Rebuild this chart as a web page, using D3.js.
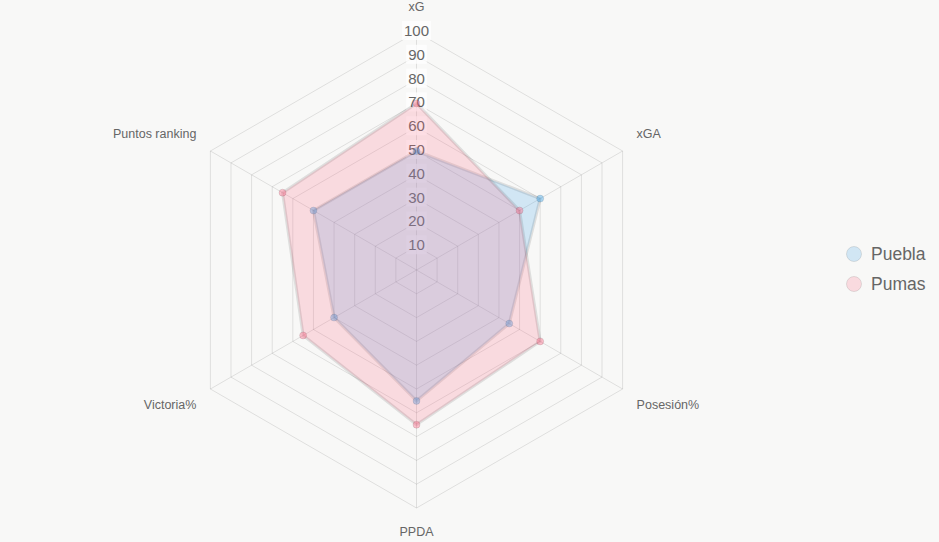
<!DOCTYPE html>
<html>
<head>
<meta charset="utf-8">
<script src="https://cdn.jsdelivr.net/npm/d3@7"></script>
<style>
  html, body { margin: 0; padding: 0; background: #f8f8f7; }
  svg { display: block; font-family: Arial, "Liberation Sans", Helvetica, sans-serif; }
</style>
</head>
<body>
<script>
// radar data
const axesLabels = ["xG", "xGA", "Posesión%", "PPDA", "Victoria%", "Puntos ranking"];
const ticks = [10, 20, 30, 40, 50, 60, 70, 80, 90, 100];
const seriesNames = ["Puebla", "Pumas"];
const pueblaValues = [50, 60, 45, 55, 40, 50];
const pumasValues = [70, 50, 60, 65, 55, 65];

const fills = ["rgba(54,162,235,0.2)", "rgba(255,99,132,0.2)"];
const pointFills = ["rgba(54,162,235,0.4)", "rgba(255,99,132,0.4)"];

const width = 939, height = 542;
const cx = 416.5, cy = 270, R = 238;

const svg = d3.select("body").append("svg")
    .attr("width", width)
    .attr("height", height);

const r = d3.scaleLinear().domain([0, 100]).range([0, R]);
const n = axesLabels.length;
const angle = i => (i / n) * 2 * Math.PI;
const px = (i, v) => cx + r(v) * Math.sin(angle(i));
const py = (i, v) => cy - r(v) * Math.cos(angle(i));

const g = svg.append("g");

// grid rings
ticks.forEach(t => {
    const pts = d3.range(n).map(i => [px(i, t), py(i, t)]);
    g.append("polygon")
        .attr("points", pts.map(p => p.join(",")).join(" "))
        .attr("fill", "none")
        .attr("stroke", "rgba(0,0,0,0.1)")
        .attr("stroke-width", 1);
});

// spokes
d3.range(n).forEach(i => {
    g.append("line")
        .attr("x1", cx).attr("y1", cy)
        .attr("x2", px(i, 100)).attr("y2", py(i, 100))
        .attr("stroke", "rgba(0,0,0,0.1)")
        .attr("stroke-width", 1);
});

// tick labels with backdrop
ticks.forEach(t => {
    const y = cy - r(t) - 1.5;
    const txt = String(t);
    const w = txt.length * 8.3 + 4;
    g.append("rect")
        .attr("x", cx - w / 2)
        .attr("y", y - 9.5)
        .attr("width", w)
        .attr("height", 19)
        .attr("fill", "rgba(255,255,255,0.75)");
    g.append("text")
        .attr("x", cx)
        .attr("y", y)
        .attr("dy", "0.36em")
        .attr("text-anchor", "middle")
        .attr("font-size", 15)
        .attr("fill", "#666")
        .text(txt);
});

// point labels
const labelPos = [
    { dx: 0, dy: -26, anchor: "middle" },
    { dx: 14, dy: -18, anchor: "start" },
    { dx: 14, dy: 15, anchor: "start" },
    { dx: 0, dy: 23, anchor: "middle" },
    { dx: -14, dy: 15, anchor: "end" },
    { dx: -14, dy: -18, anchor: "end" }
];
axesLabels.forEach((name, i) => {
    const p = labelPos[i];
    g.append("text")
        .attr("x", px(i, 100) + p.dx)
        .attr("y", py(i, 100) + p.dy)
        .attr("dy", "0.36em")
        .attr("text-anchor", p.anchor)
        .attr("font-size", 12.5)
        .attr("fill", "#666")
        .text(name);
});

// datasets
const series = [pueblaValues, pumasValues];
const line = d3.line().curve(d3.curveLinearClosed);
series.forEach((vals, s) => {
    const pts = vals.map((v, i) => [px(i, v), py(i, v)]);
    g.append("path")
        .attr("d", line(pts))
        .attr("fill", fills[s])
        .attr("stroke", "rgba(0,0,0,0.1)")
        .attr("stroke-width", 3)
        .attr("stroke-linejoin", "miter");
    g.selectAll(null)
        .data(pts)
        .enter().append("circle")
        .attr("cx", d => d[0])
        .attr("cy", d => d[1])
        .attr("r", 3.5)
        .attr("fill", pointFills[s])
        .attr("stroke", "rgba(0,0,0,0.1)")
        .attr("stroke-width", 1);
});

// legend
const legend = svg.append("g");
seriesNames.forEach((name, s) => {
    const y = 254 + s * 30;
    legend.append("circle")
        .attr("cx", 854)
        .attr("cy", y)
        .attr("r", 7.5)
        .attr("fill", fills[s])
        .attr("stroke", "rgba(0,0,0,0.1)")
        .attr("stroke-width", 1);
    legend.append("text")
        .attr("x", 871)
        .attr("y", y)
        .attr("dy", "0.36em")
        .attr("font-size", 17.5)
        .attr("fill", "#666")
        .text(name);
});
</script>
</body>
</html>
